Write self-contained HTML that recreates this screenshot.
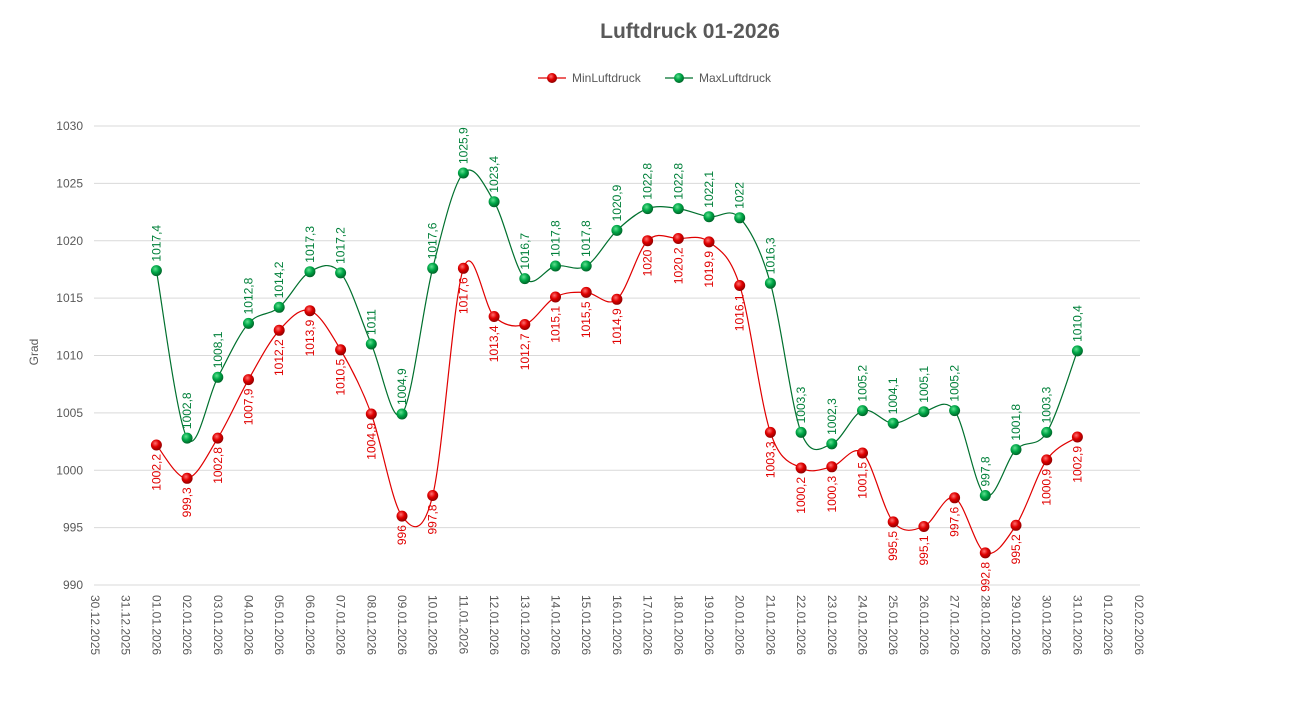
<!DOCTYPE html>
<html><head><meta charset="utf-8"><style>
html,body{margin:0;padding:0;background:#fff;}
svg{display:block;font-family:"Liberation Sans",sans-serif;}
</style></head><body>
<svg width="1315" height="714" viewBox="0 0 1315 714">
<defs>
<radialGradient id="gr" cx="40%" cy="35%" r="65%"><stop offset="0" stop-color="#ff7070"/><stop offset="0.5" stop-color="#e00000"/><stop offset="1" stop-color="#900000"/></radialGradient>
<radialGradient id="gg" cx="40%" cy="35%" r="65%"><stop offset="0" stop-color="#60e090"/><stop offset="0.5" stop-color="#00a848"/><stop offset="1" stop-color="#006428"/></radialGradient>
</defs>
<text x="690" y="38" text-anchor="middle" font-size="21" font-weight="bold" fill="#595959">Luftdruck 01-2026</text>
<line x1="538" y1="78" x2="566" y2="78" stroke="#e00000" stroke-width="1.2"/><circle cx="552" cy="78" r="5" fill="url(#gr)"/>
<text x="572" y="82" font-size="12" fill="#595959">MinLuftdruck</text>
<line x1="665" y1="78" x2="693" y2="78" stroke="#00702e" stroke-width="1.2"/><circle cx="679" cy="78" r="5" fill="url(#gg)"/>
<text x="699" y="82" font-size="12" fill="#595959">MaxLuftdruck</text>
<g stroke="#d9d9d9" stroke-width="1">
<line x1="94" y1="126" x2="1140" y2="126"/><line x1="94" y1="183.4" x2="1140" y2="183.4"/><line x1="94" y1="240.8" x2="1140" y2="240.8"/><line x1="94" y1="298.1" x2="1140" y2="298.1"/><line x1="94" y1="355.5" x2="1140" y2="355.5"/><line x1="94" y1="412.9" x2="1140" y2="412.9"/><line x1="94" y1="470.3" x2="1140" y2="470.3"/><line x1="94" y1="527.6" x2="1140" y2="527.6"/><line x1="94" y1="585" x2="1140" y2="585"/>
</g>
<g font-size="12" fill="#595959" text-anchor="end">
<text x="83" y="130">1030</text><text x="83" y="187.4">1025</text><text x="83" y="244.8">1020</text><text x="83" y="302.1">1015</text><text x="83" y="359.5">1010</text><text x="83" y="416.9">1005</text><text x="83" y="474.3">1000</text><text x="83" y="531.6">995</text><text x="83" y="589">990</text>
</g>
<text transform="translate(38,352) rotate(-90)" font-size="12" fill="#595959" text-anchor="middle">Grad</text>
<g font-size="12" fill="#595959">
<text transform="translate(91,595) rotate(90)">30.12.2025</text>
<text transform="translate(121.7,595) rotate(90)">31.12.2025</text>
<text transform="translate(152.4,595) rotate(90)">01.01.2026</text>
<text transform="translate(183.1,595) rotate(90)">02.01.2026</text>
<text transform="translate(213.8,595) rotate(90)">03.01.2026</text>
<text transform="translate(244.5,595) rotate(90)">04.01.2026</text>
<text transform="translate(275.2,595) rotate(90)">05.01.2026</text>
<text transform="translate(305.9,595) rotate(90)">06.01.2026</text>
<text transform="translate(336.6,595) rotate(90)">07.01.2026</text>
<text transform="translate(367.3,595) rotate(90)">08.01.2026</text>
<text transform="translate(398,595) rotate(90)">09.01.2026</text>
<text transform="translate(428.7,595) rotate(90)">10.01.2026</text>
<text transform="translate(459.4,595) rotate(90)">11.01.2026</text>
<text transform="translate(490.1,595) rotate(90)">12.01.2026</text>
<text transform="translate(520.8,595) rotate(90)">13.01.2026</text>
<text transform="translate(551.5,595) rotate(90)">14.01.2026</text>
<text transform="translate(582.2,595) rotate(90)">15.01.2026</text>
<text transform="translate(612.9,595) rotate(90)">16.01.2026</text>
<text transform="translate(643.6,595) rotate(90)">17.01.2026</text>
<text transform="translate(674.3,595) rotate(90)">18.01.2026</text>
<text transform="translate(705,595) rotate(90)">19.01.2026</text>
<text transform="translate(735.7,595) rotate(90)">20.01.2026</text>
<text transform="translate(766.4,595) rotate(90)">21.01.2026</text>
<text transform="translate(797.1,595) rotate(90)">22.01.2026</text>
<text transform="translate(827.8,595) rotate(90)">23.01.2026</text>
<text transform="translate(858.5,595) rotate(90)">24.01.2026</text>
<text transform="translate(889.2,595) rotate(90)">25.01.2026</text>
<text transform="translate(919.9,595) rotate(90)">26.01.2026</text>
<text transform="translate(950.6,595) rotate(90)">27.01.2026</text>
<text transform="translate(981.3,595) rotate(90)">28.01.2026</text>
<text transform="translate(1012,595) rotate(90)">29.01.2026</text>
<text transform="translate(1042.7,595) rotate(90)">30.01.2026</text>
<text transform="translate(1073.4,595) rotate(90)">31.01.2026</text>
<text transform="translate(1104.1,595) rotate(90)">01.02.2026</text>
<text transform="translate(1134.8,595) rotate(90)">02.02.2026</text>
</g>
<path id="pmin" fill="none" stroke="#e00000" stroke-width="1.2"/>
<path id="pmax" fill="none" stroke="#00702e" stroke-width="1.2"/>
<g id="mk"></g>
<g font-size="12" fill="#e00000" text-anchor="end">
<text transform="translate(160.4,454) rotate(-90)">1002,2</text>
<text transform="translate(191.1,487.3) rotate(-90)">999,3</text>
<text transform="translate(221.8,447.1) rotate(-90)">1002,8</text>
<text transform="translate(252.5,388.6) rotate(-90)">1007,9</text>
<text transform="translate(283.2,339.3) rotate(-90)">1012,2</text>
<text transform="translate(313.9,319.7) rotate(-90)">1013,9</text>
<text transform="translate(344.6,358.8) rotate(-90)">1010,5</text>
<text transform="translate(375.3,423) rotate(-90)">1004,9</text>
<text transform="translate(406,525.1) rotate(-90)">996</text>
<text transform="translate(436.7,504.5) rotate(-90)">997,8</text>
<text transform="translate(467.4,277.3) rotate(-90)">1017,6</text>
<text transform="translate(498.1,325.5) rotate(-90)">1013,4</text>
<text transform="translate(528.8,333.5) rotate(-90)">1012,7</text>
<text transform="translate(559.5,306) rotate(-90)">1015,1</text>
<text transform="translate(590.2,301.4) rotate(-90)">1015,5</text>
<text transform="translate(620.9,308.3) rotate(-90)">1014,9</text>
<text transform="translate(651.6,249.7) rotate(-90)">1020</text>
<text transform="translate(682.3,247.5) rotate(-90)">1020,2</text>
<text transform="translate(713,250.9) rotate(-90)">1019,9</text>
<text transform="translate(743.7,294.5) rotate(-90)">1016,1</text>
<text transform="translate(774.4,441.4) rotate(-90)">1003,3</text>
<text transform="translate(805.1,477) rotate(-90)">1000,2</text>
<text transform="translate(835.8,475.8) rotate(-90)">1000,3</text>
<text transform="translate(866.5,462) rotate(-90)">1001,5</text>
<text transform="translate(897.2,530.9) rotate(-90)">995,5</text>
<text transform="translate(927.9,535.5) rotate(-90)">995,1</text>
<text transform="translate(958.6,506.8) rotate(-90)">997,6</text>
<text transform="translate(989.3,561.9) rotate(-90)">992,8</text>
<text transform="translate(1020,534.3) rotate(-90)">995,2</text>
<text transform="translate(1050.7,468.9) rotate(-90)">1000,9</text>
<text transform="translate(1081.4,446) rotate(-90)">1002,9</text>
</g>
<g font-size="12" fill="#00803a">
<text transform="translate(160.4,261.6) rotate(-90)">1017,4</text>
<text transform="translate(191.1,429.1) rotate(-90)">1002,8</text>
<text transform="translate(221.8,368.3) rotate(-90)">1008,1</text>
<text transform="translate(252.5,314.4) rotate(-90)">1012,8</text>
<text transform="translate(283.2,298.3) rotate(-90)">1014,2</text>
<text transform="translate(313.9,262.7) rotate(-90)">1017,3</text>
<text transform="translate(344.6,263.9) rotate(-90)">1017,2</text>
<text transform="translate(375.3,335) rotate(-90)">1011</text>
<text transform="translate(406,405) rotate(-90)">1004,9</text>
<text transform="translate(436.7,259.3) rotate(-90)">1017,6</text>
<text transform="translate(467.4,164) rotate(-90)">1025,9</text>
<text transform="translate(498.1,192.7) rotate(-90)">1023,4</text>
<text transform="translate(528.8,269.6) rotate(-90)">1016,7</text>
<text transform="translate(559.5,257) rotate(-90)">1017,8</text>
<text transform="translate(590.2,257) rotate(-90)">1017,8</text>
<text transform="translate(620.9,221.4) rotate(-90)">1020,9</text>
<text transform="translate(651.6,199.6) rotate(-90)">1022,8</text>
<text transform="translate(682.3,199.6) rotate(-90)">1022,8</text>
<text transform="translate(713,207.7) rotate(-90)">1022,1</text>
<text transform="translate(743.7,208.8) rotate(-90)">1022</text>
<text transform="translate(774.4,274.2) rotate(-90)">1016,3</text>
<text transform="translate(805.1,423.4) rotate(-90)">1003,3</text>
<text transform="translate(835.8,434.9) rotate(-90)">1002,3</text>
<text transform="translate(866.5,401.6) rotate(-90)">1005,2</text>
<text transform="translate(897.2,414.2) rotate(-90)">1004,1</text>
<text transform="translate(927.9,402.7) rotate(-90)">1005,1</text>
<text transform="translate(958.6,401.6) rotate(-90)">1005,2</text>
<text transform="translate(989.3,486.5) rotate(-90)">997,8</text>
<text transform="translate(1020,440.6) rotate(-90)">1001,8</text>
<text transform="translate(1050.7,423.4) rotate(-90)">1003,3</text>
<text transform="translate(1081.4,341.9) rotate(-90)">1010,4</text>
</g>
</svg>
<script>
(function(){
var minY=[445,478.3,438.1,379.6,330.3,310.7,349.8,414,516.1,495.5,268.3,316.5,324.5,297,292.4,299.3,240.7,238.5,241.9,285.5,432.4,468,466.8,453,521.9,526.5,497.8,552.9,525.3,459.9,437];
var maxY=[270.6,438.1,377.3,323.4,307.3,271.7,272.9,344,414,268.3,173,201.7,278.6,266,266,230.4,208.6,208.6,216.7,217.8,283.2,432.4,443.9,410.6,423.2,411.7,410.6,495.5,449.6,432.4,350.9];
function X(i){return 95+30.7*(i+2);}
function path(ys){var p=ys.map(function(y,i){return [X(i),y];});var d="M"+p[0][0]+","+p[0][1];var t=1/6;
for(var i=0;i<p.length-1;i++){var p0=p[i-1]||p[i],p1=p[i],p2=p[i+1],p3=p[i+2]||p[i+1];
d+=" C"+(p1[0]+(p2[0]-p0[0])*t)+","+(p1[1]+(p2[1]-p0[1])*t)+" "+(p2[0]-(p3[0]-p1[0])*t)+","+(p2[1]-(p3[1]-p1[1])*t)+" "+p2[0]+","+p2[1];}
return d;}
document.getElementById("pmin").setAttribute("d",path(minY));
document.getElementById("pmax").setAttribute("d",path(maxY));
var g=document.getElementById("mk"),ns="http://www.w3.org/2000/svg";
function mk(ys,f){ys.forEach(function(y,i){var c=document.createElementNS(ns,"circle");c.setAttribute("cx",X(i));c.setAttribute("cy",y);c.setAttribute("r",5.5);c.setAttribute("fill",f);g.appendChild(c);});}
mk(minY,"url(#gr)");mk(maxY,"url(#gg)");
})();
</script>
</body></html>
